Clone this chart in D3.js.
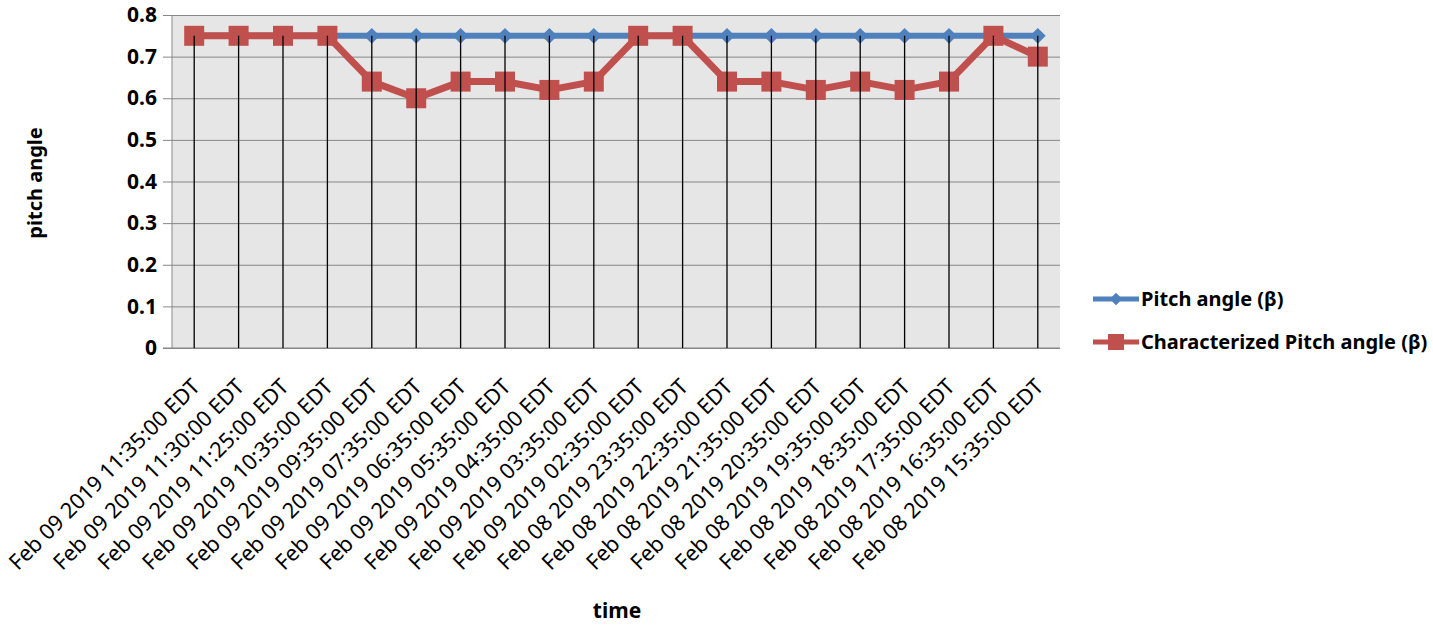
<!DOCTYPE html>
<html><head><meta charset="utf-8">
<script src="https://cdn.jsdelivr.net/npm/d3@7"></script>
<style>body{margin:0;background:#fff}svg{display:block}</style>
</head><body><svg id="c" width="1433" height="631"></svg>
<script>
const categories = ["Feb 09 2019 11:35:00 EDT","Feb 09 2019 11:30:00 EDT","Feb 09 2019 11:25:00 EDT","Feb 09 2019 10:35:00 EDT","Feb 09 2019 09:35:00 EDT","Feb 09 2019 07:35:00 EDT","Feb 09 2019 06:35:00 EDT","Feb 09 2019 05:35:00 EDT","Feb 09 2019 04:35:00 EDT","Feb 09 2019 03:35:00 EDT","Feb 09 2019 02:35:00 EDT","Feb 08 2019 23:35:00 EDT","Feb 08 2019 22:35:00 EDT","Feb 08 2019 21:35:00 EDT","Feb 08 2019 20:35:00 EDT","Feb 08 2019 19:35:00 EDT","Feb 08 2019 18:35:00 EDT","Feb 08 2019 17:35:00 EDT","Feb 08 2019 16:35:00 EDT","Feb 08 2019 15:35:00 EDT"];
const pitch = [0.75,0.75,0.75,0.75,0.75,0.75,0.75,0.75,0.75,0.75,0.75,0.75,0.75,0.75,0.75,0.75,0.75,0.75,0.75,0.75];
const characterized = [0.75,0.75,0.75,0.75,0.64,0.60,0.64,0.64,0.62,0.64,0.75,0.75,0.64,0.64,0.62,0.64,0.62,0.64,0.75,0.70];
const yTicks = [0,0.1,0.2,0.3,0.4,0.5,0.6,0.7,0.8];
const seriesNames = ["Pitch angle (\u03b2)","Characterized Pitch angle (\u03b2)"];

const svg = d3.select("#c");
const L = 172, R = 1060, T = 15, B = 348;
const x = d3.scaleBand().domain(categories).range([L, R]);
const y = d3.scaleLinear().domain([0, 0.8]).range([B, T]);
const cx = d => x(d) + x.bandwidth() / 2;
const blue = "#4F81BD", red = "#C0504D";
const font = "'Noto Sans', 'Open Sans', sans-serif";

svg.append("rect").attr("x", L).attr("y", T).attr("width", R - L).attr("height", B - T).attr("fill", "#E6E6E6");

// y axis with gridlines
const yAxis = svg.append("g").attr("transform", `translate(${L},0)`)
  .call(d3.axisLeft(y).tickValues(yTicks).tickFormat(d => d === 0 ? "0" : d3.format(".1f")(d)).tickSize(-(R - L)).tickPadding(15));
yAxis.select(".domain").remove();
yAxis.selectAll(".tick line").attr("stroke", "#878787").attr("x1", -9);
yAxis.selectAll(".tick text").attr("font-family", font).attr("font-weight", "bold").attr("font-size", 21).attr("fill", "#000");
svg.append("line").attr("x1", L).attr("x2", L).attr("y1", T).attr("y2", B).attr("stroke", "#878787");

// x axis labels
const xg = svg.append("g").attr("transform", `translate(0,${B})`).call(d3.axisBottom(x).tickSize(0).tickPadding(0));
xg.select(".domain").remove();
xg.selectAll(".tick text").attr("font-family", font).attr("font-size", 21.7).attr("fill", "#000")
  .attr("text-anchor", "end").attr("dy", 0).attr("y", 0)
  .attr("transform", "translate(7,40) rotate(-45)");
svg.append("line").attr("x1", L - 9).attr("x2", R).attr("y1", B).attr("y2", B).attr("stroke", "#878787");

const line = d3.line().x((d, i) => cx(categories[i])).y(d => y(d));
svg.append("path").datum(pitch).attr("d", line).attr("fill", "none").attr("stroke", blue).attr("stroke-width", 6);
svg.append("g").selectAll("path").data(pitch).join("path")
  .attr("d", d3.symbol(d3.symbolDiamond2, 160)())
  .attr("transform", (d, i) => `translate(${cx(categories[i])},${y(d)})`)
  .attr("fill", blue);
svg.append("path").datum(characterized).attr("d", line).attr("fill", "none").attr("stroke", red).attr("stroke-width", 7).attr("stroke-linejoin", "round");
svg.append("g").selectAll("rect").data(characterized).join("rect")
  .attr("x", (d, i) => cx(categories[i]) - 10).attr("y", d => y(d) - 10)
  .attr("width", 20).attr("height", 20).attr("fill", red);
// drop lines (drawn over the markers, as in the reference)
svg.append("g").selectAll("line").data(categories).join("line")
  .attr("x1", d => cx(d)).attr("x2", d => cx(d))
  .attr("y1", (d, i) => y(Math.max(pitch[i], characterized[i]))).attr("y2", B)
  .attr("stroke", "#000").attr("stroke-width", 1.3);

// axis titles
svg.append("text").attr("transform", "translate(42,183) rotate(-90)").attr("text-anchor", "middle")
  .attr("font-family", font).attr("font-weight", "bold").attr("font-size", 20).text("pitch angle");
svg.append("text").attr("x", 617).attr("y", 618).attr("text-anchor", "middle")
  .attr("font-family", font).attr("font-weight", "bold").attr("font-size", 21).text("time");

// legend
const lg = svg.append("g");
const ly = [299, 342];
lg.append("line").attr("x1", 1093).attr("x2", 1139).attr("y1", ly[0]).attr("y2", ly[0]).attr("stroke", blue).attr("stroke-width", 5);
lg.append("path").attr("d", d3.symbol(d3.symbolDiamond2, 100)()).attr("transform", `translate(1116,${ly[0]})`).attr("fill", blue);
lg.append("line").attr("x1", 1093).attr("x2", 1139).attr("y1", ly[1]).attr("y2", ly[1]).attr("stroke", red).attr("stroke-width", 5);
lg.append("rect").attr("x", 1108).attr("y", ly[1] - 8).attr("width", 16).attr("height", 16).attr("fill", red);
lg.selectAll("text").data(seriesNames).join("text")
  .attr("x", 1141).attr("y", (d, i) => ly[i] + 7)
  .attr("font-family", font).attr("font-weight", "bold").attr("font-size", 20).attr("fill", "#000").text(d => d);
</script></body></html>
